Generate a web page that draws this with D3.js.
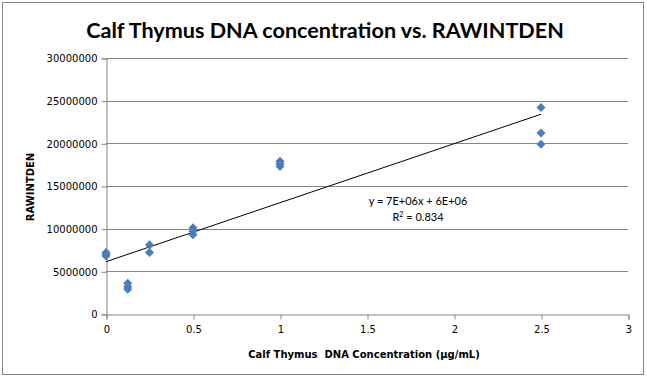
<!DOCTYPE html>
<html><head><meta charset="utf-8">
<script src="https://cdn.jsdelivr.net/npm/d3@7"></script>
<style>body{margin:0;background:#fff}svg{display:block}</style>
</head><body><div id="c"></div>
<script>
const title = "Calf Thymus DNA concentration vs. RAWINTDEN";
const xLabel = "Calf Thymus  DNA Concentration (µg/mL)";
const yLabel = "RAWINTDEN";
const xValues = [0, 0, 0, 0.125, 0.125, 0.125, 0.25, 0.25, 0.5, 0.5, 0.5, 1, 1, 1, 2.5, 2.5, 2.5];
const yValues = [7200000, 6800000, 7000000, 3600000, 3200000, 2900000, 8100000, 7200000, 10100000, 9700000, 9300000, 17900000, 17600000, 17300000, 24200000, 21200000, 19900000];
const xTicks = [0, 0.5, 1, 1.5, 2, 2.5, 3];
const yTicks = [0, 5000000, 10000000, 15000000, 20000000, 25000000, 30000000];
const eqText = "y = 7E+06x + 6E+06";
const r2Text = "0.834";

const W = 647, H = 379;
const svg = d3.select("#c").append("svg").attr("width", W).attr("height", H);
svg.append("rect").attr("x", 2.5).attr("y", 2.5).attr("width", 641).attr("height", 372)
  .attr("fill", "#fff").attr("stroke", "#868686").attr("stroke-width", 1);

const x = d3.scaleLinear().domain([0, 3]).range([106, 628]);
const y = d3.scaleLinear().domain([0, 30000000]).range([314, 58]);

// gridlines
svg.append("g").selectAll("line").data(yTicks.slice(1)).join("line")
  .attr("x1", x(0)).attr("x2", x(3))
  .attr("y1", d => Math.round(y(d)) + 0.5).attr("y2", d => Math.round(y(d)) + 0.5)
  .attr("stroke", "#868686").attr("stroke-width", 1);

const axisFont = "Verdana, 'DejaVu Sans', sans-serif";
const yAxis = svg.append("g").attr("transform", `translate(${x(0) + 0.5},0.5)`)
  .call(d3.axisLeft(y).tickValues(yTicks).tickSize(5).tickPadding(4).tickFormat(d3.format("d")));
const xAxis = svg.append("g").attr("transform", `translate(0.5,${y(0) + 0.5})`)
  .call(d3.axisBottom(x).tickValues(xTicks).tickSize(5).tickPadding(6).tickFormat(d => String(d)));
[yAxis, xAxis].forEach(a => {
  a.select(".domain").attr("stroke", "#868686");
  a.selectAll(".tick line").attr("stroke", "#868686");
  a.selectAll(".tick text").attr("fill", "#000").style("font-family", axisFont).style("font-size", "10px");
});

// trendline (least squares)
const n = xValues.length;
const mx = d3.mean(xValues), my = d3.mean(yValues);
let sxy = 0, sxx = 0;
for (let i = 0; i < n; i++) { sxy += (xValues[i] - mx) * (yValues[i] - my); sxx += (xValues[i] - mx) ** 2; }
const slope = sxy / sxx, icpt = my - slope * mx;
const x0 = d3.min(xValues), x1 = d3.max(xValues);
svg.append("line").attr("x1", x(x0)).attr("y1", y(icpt + slope * x0))
  .attr("x2", x(x1)).attr("y2", y(icpt + slope * x1))
  .attr("stroke", "#000").attr("stroke-width", 1);

// markers
const diamond = d3.symbol().type(d3.symbolDiamond2).size(52);
svg.append("g").selectAll("path").data(xValues.map((v, i) => [v, yValues[i]])).join("path")
  .attr("d", diamond)
  .attr("transform", d => `translate(${x(d[0])},${y(d[1])})`)
  .attr("fill", "#4a7ebb");

// equation
const eqFont = "Lato, 'Open Sans', sans-serif";
svg.append("text").attr("x", 418).attr("y", 205).attr("text-anchor", "middle")
  .style("font-family", eqFont).style("font-size", "11px").text(eqText);
const r2 = svg.append("text").attr("x", 418).attr("y", 221).attr("text-anchor", "middle")
  .style("font-family", eqFont).style("font-size", "11px");
r2.append("tspan").text("R");
r2.append("tspan").attr("dy", -4).style("font-size", "7px").text("2");
r2.append("tspan").attr("dy", 4).text(" = " + r2Text);

// title
svg.append("text").attr("x", 325).attr("y", 38).attr("text-anchor", "middle")
  .style("font-family", "Lato, 'Open Sans', sans-serif").style("font-weight", "bold").style("font-size", "21.6px")
  .text(title);

// axis titles
svg.append("text").attr("x", 364).attr("y", 358).attr("text-anchor", "middle")
  .style("font-family", axisFont).style("font-weight", "bold").style("font-size", "10px").attr("xml:space", "preserve")
  .text(xLabel);
svg.append("text").attr("transform", `translate(34,187) rotate(-90)`).attr("text-anchor", "middle")
  .style("font-family", axisFont).style("font-weight", "bold").style("font-size", "10px")
  .text(yLabel);
</script></body></html>
